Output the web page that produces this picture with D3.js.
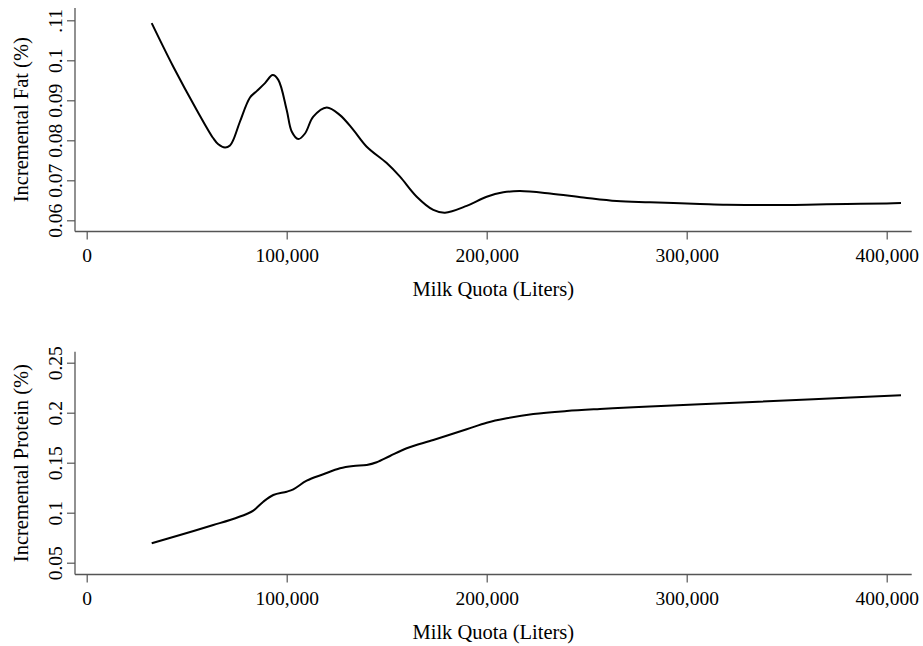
<!DOCTYPE html>
<html>
<head>
<meta charset="utf-8">
<script src="https://cdn.jsdelivr.net/npm/d3@7"></script>
<style>
  body { margin: 0; background: #fff; }
  svg text { font-family: "Liberation Serif", "Times New Roman", serif; }
</style>
</head>
<body>
<svg id="chart" width="923" height="646"></svg>
<script>
// milk quota (liters) where the curves were sampled
const fatQuota = [32500, 43300, 55000, 63300, 65800, 69150, 71650, 73300, 76650, 81650, 85000, 89150, 93000, 95800, 100000,
  102500, 105800, 109150, 113300, 120000, 126650, 133300, 140000, 150000, 156650, 165000, 173300,
  179150, 190000, 200000, 208300, 216650, 231650, 248300, 265000, 281650, 306650, 320000, 340000,
  360000, 380000, 400000, 407150]
const fatValues = [0.1093, 0.0984, 0.0876, 0.0805, 0.0790, 0.0782, 0.0787, 0.0801, 0.0847, 0.0907, 0.0923, 0.0943, 0.0963, 0.0951, 0.0876,
  0.0822, 0.0803, 0.0817, 0.0859, 0.0882, 0.0863, 0.0826, 0.0784, 0.0743, 0.0709, 0.0659, 0.0626,
  0.0619, 0.0636, 0.0659, 0.0670, 0.0673, 0.0667, 0.0657, 0.0648, 0.0645, 0.0641, 0.0639, 0.0638,
  0.0639, 0.0641, 0.0642, 0.0643]

const proteinQuota = [32500, 46650, 63300, 71650, 80000, 83300, 88300, 93300, 100000, 103300, 110000, 118300,
  126650, 133300, 140000, 145000, 151650, 160000, 173300, 190000, 200000, 210000, 223300, 240000,
  256650, 273300, 290000, 306650, 330000, 363300, 407150]
const proteinValues = [0.0694, 0.0777, 0.0877, 0.0927, 0.0987, 0.102, 0.111, 0.1177, 0.121, 0.1234, 0.132, 0.1384,
  0.1444, 0.1467, 0.1477, 0.1504, 0.1567, 0.1644, 0.1727, 0.1834, 0.190, 0.1944, 0.1987, 0.2017,
  0.2037, 0.2054, 0.207, 0.2084, 0.2104, 0.2134, 0.2174]

const xTicks = [0, 100000, 200000, 300000, 400000]
const fatTicks = [0.06, 0.07, 0.08, 0.09, 0.1, 0.11]
const fatTickLabels = ["0.06", "0.07", "0.08", "0.09", "0.1", ".11"]
const proteinTicks = [0.05, 0.1, 0.15, 0.2, 0.25]
const proteinTickLabels = ["0.05", "0.1", "0.15", "0.2", "0.25"]

const svg = d3.select("#chart")
const axisColor = "#555"
const tickFont = 19.5
const titleFont = 20.5

const x = d3.scaleLinear().domain([0, 400000]).range([86.7, 886.7])

function panel(opts) {
  const g = svg.append("g")
  const y = d3.scaleLinear().domain(opts.yDomain).range(opts.yRange)
  const left = 75, right = 911.7

  // axis lines
  g.append("line").attr("x1", left).attr("x2", left).attr("y1", opts.top).attr("y2", opts.bottom)
    .attr("stroke", axisColor).attr("stroke-width", 1.3)
  g.append("line").attr("x1", left).attr("x2", right).attr("y1", opts.bottom).attr("y2", opts.bottom)
    .attr("stroke", axisColor).attr("stroke-width", 1.3)

  // x axis
  const xa = g.append("g").attr("transform", `translate(0,${opts.bottom})`)
    .call(d3.axisBottom(x).tickValues(xTicks).tickSize(8).tickFormat(d3.format(",")))
  xa.select(".domain").remove()
  xa.selectAll("line").attr("stroke", axisColor).attr("stroke-width", 1.2)
  xa.selectAll("text").attr("y", 30.5).attr("dy", 0)
    .attr("font-size", tickFont).attr("font-family", "Liberation Serif").attr("fill", "#000")

  // y axis
  const ya = g.append("g").attr("transform", `translate(${left},0)`)
    .call(d3.axisLeft(y).tickValues(opts.yTicks).tickSize(8).tickFormat((d, i) => opts.yLabels[i]))
  ya.select(".domain").remove()
  ya.selectAll("line").attr("stroke", axisColor).attr("stroke-width", 1.2)
  ya.selectAll("text")
    .attr("transform", "rotate(-90)")
    .attr("x", 0).attr("y", -13.5).attr("dy", 0)
    .attr("text-anchor", "middle")
    .attr("font-size", tickFont).attr("font-family", "Liberation Serif").attr("fill", "#000")

  // titles
  g.append("text").attr("x", (left + right) / 2).attr("y", opts.bottom + 64)
    .attr("text-anchor", "middle").attr("font-size", titleFont)
    .text("Milk Quota (Liters)")
  g.append("text")
    .attr("transform", `translate(28,${(opts.top + opts.bottom) / 2}) rotate(-90)`)
    .attr("text-anchor", "middle").attr("font-size", titleFont)
    .text(opts.yTitle)

  // curve
  const line = d3.line()
    .x((d, i) => x(opts.xs[i]))
    .y(d => y(d))
    .curve(d3.curveCatmullRom.alpha(0.5))
  g.append("path").datum(opts.ys)
    .attr("d", line)
    .attr("fill", "none")
    .attr("stroke", "#000")
    .attr("stroke-width", 2)
}

panel({
  top: 8, bottom: 231.5,
  yDomain: [0.06, 0.11], yRange: [220.3, 20.3],
  yTicks: fatTicks, yLabels: fatTickLabels,
  yTitle: "Incremental Fat (%)",
  xs: fatQuota, ys: fatValues
})

panel({
  top: 351.7, bottom: 574.5,
  yDomain: [0.05, 0.25], yRange: [562.7, 362.7],
  yTicks: proteinTicks, yLabels: proteinTickLabels,
  yTitle: "Incremental Protein (%)",
  xs: proteinQuota, ys: proteinValues
})
</script>
</body>
</html>
